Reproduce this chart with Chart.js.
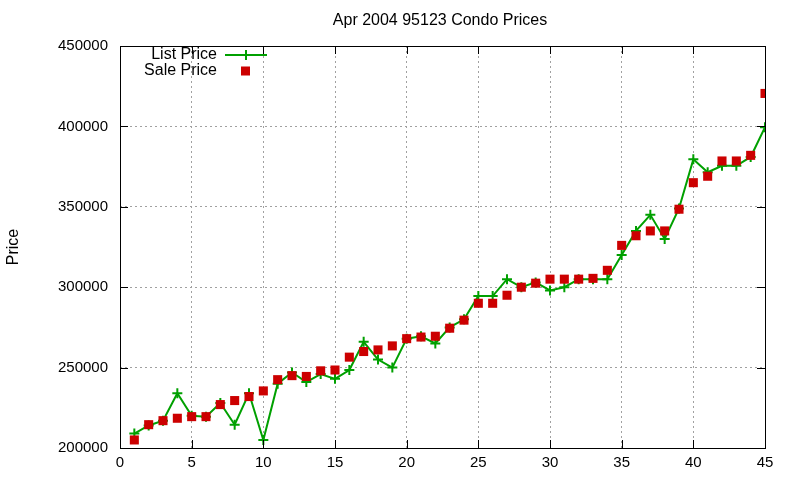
<!DOCTYPE html>
<html><head><meta charset="utf-8">
<script src="https://cdn.jsdelivr.net/npm/chart.js@4/dist/chart.umd.min.js"></script>
<style>html,body{margin:0;padding:0;background:#fff}#wrap{width:800px;height:480px}</style>
</head><body><div id="wrap"><canvas id="c" width="800" height="480"></canvas></div>
<script>
const chartTitle = "Apr 2004 95123 Condo Prices";
const yAxisTitle = "Price";
const seriesNames = ["List Price", "Sale Price"];
const indices = [1,2,3,4,5,6,7,8,9,10,11,12,13,14,15,16,17,18,19,20,21,22,23,24,25,26,27,28,29,30,31,32,33,34,35,36,37,38,39,40,41,42,43,44,45];
const listPrice = [209000,214000,217000,234000,220000,219500,228000,214500,234000,205000,240000,247000,241000,246000,243000,248500,266000,255000,250000,268000,269500,265000,275000,280000,294500,294500,305000,300000,303000,298000,300000,305000,305000,305000,320000,335000,345000,330000,349000,379500,371500,375500,375500,381000,399500];
const salePrice = [205000,214500,217000,218500,219500,219500,227000,229500,232000,235500,242500,245000,244500,248000,248500,256500,260000,261000,263500,268000,269000,269500,274500,279500,290000,290000,295000,300000,302500,305000,305000,305000,305500,310500,326000,332000,335000,335000,348500,365000,369000,378500,378500,382000,420500];
const xTicks = {min:0, max:45, step:5};
const yTicks = {min:200000, max:450000, step:50000};

const FONT = "'Liberation Sans', Arial, sans-serif";
const green = '#00a000', red = '#cc0000';

const framePlugin = {
  id:'frame',
  afterDraw(chart){
    const {ctx, chartArea:a, scales} = chart;
    ctx.save();
    ctx.strokeStyle = '#000'; ctx.lineWidth = 1;
    ctx.strokeRect(a.left+0.5, a.top+0.5, a.right-a.left, a.bottom-a.top);
    ctx.beginPath();
    scales.x.ticks.forEach(t=>{
      const px = Math.round(scales.x.getPixelForValue(t.value))+0.5;
      ctx.moveTo(px,a.bottom); ctx.lineTo(px,a.bottom-8);
      ctx.moveTo(px,a.top); ctx.lineTo(px,a.top+8);
    });
    scales.y.ticks.forEach(t=>{
      const py = Math.round(scales.y.getPixelForValue(t.value))+0.5;
      ctx.moveTo(a.left,py); ctx.lineTo(a.left+8,py);
      ctx.moveTo(a.right,py); ctx.lineTo(a.right-8,py);
    });
    ctx.stroke();
    // title
    ctx.fillStyle = '#000';
    ctx.font = '16px ' + FONT;
    ctx.textAlign = 'center'; ctx.textBaseline = 'middle';
    ctx.fillText(chartTitle, 440, 21);
    // legend
    ctx.font = '16px ' + FONT;
    ctx.textAlign = 'right';
    const lx = 217, ly1 = a.top+9, ly2 = a.top+25;
    ctx.fillText(chart.data.datasets[0].label, lx, ly1);
    ctx.fillText(chart.data.datasets[1].label, lx, ly2);
    ctx.strokeStyle = green; ctx.lineWidth = 2;
    ctx.beginPath(); ctx.moveTo(225, ly1); ctx.lineTo(267, ly1);
    ctx.moveTo(246, ly1-5); ctx.lineTo(246, ly1+5); ctx.stroke();
    ctx.fillStyle = red;
    ctx.fillRect(241, ly2-4.5, 9, 9);
    ctx.restore();
  }
};

new Chart(document.getElementById('c'), {
  type:'line',
  data:{
    datasets:[
      {label:seriesNames[0], data:indices.map((x,i)=>({x, y:listPrice[i]})),
       borderColor:green, backgroundColor:green, borderWidth:2, pointStyle:'cross',
       pointRadius:5, pointBorderWidth:2, pointBorderColor:green, tension:0, order:2},
      {label:seriesNames[1], data:indices.map((x,i)=>({x, y:salePrice[i]})),
       showLine:false, borderColor:red, backgroundColor:red, pointStyle:'rect',
       pointRadius:6.4, pointBorderWidth:0, order:1}
    ]
  },
  options:{
    responsive:false, animation:false, devicePixelRatio:1,
    layout:{padding:{left:0,right:35,top:46,bottom:0}},
    plugins:{legend:{display:false}, title:{display:false}, tooltip:{enabled:false}},
    scales:{
      x:{type:'linear', min:xTicks.min, max:xTicks.max,
        ticks:{stepSize:xTicks.step, color:'#000', font:{family:FONT,size:15}, padding:6, maxRotation:0,
          callback:v=>String(v)},
        grid:{color:'#a0a0a0', lineWidth:1, drawTicks:false, tickLength:0},
        border:{display:false, dash:[2,3]},
        afterFit(s){ s.height = 32; }},
      y:{type:'linear', min:yTicks.min, max:yTicks.max,
        ticks:{stepSize:yTicks.step, color:'#000', font:{family:FONT,size:15}, padding:12,
          callback:v=>String(v)},
        grid:{color:'#a0a0a0', lineWidth:1, drawTicks:false, tickLength:0},
        border:{display:false, dash:[2,3]},
        title:{display:true, text:yAxisTitle, color:'#000', font:{family:FONT,size:16}, padding:{top:4,bottom:0}},
        afterFit(s){ s.width = 120; }}
    }
  },
  plugins:[framePlugin]
});
</script></body></html>
